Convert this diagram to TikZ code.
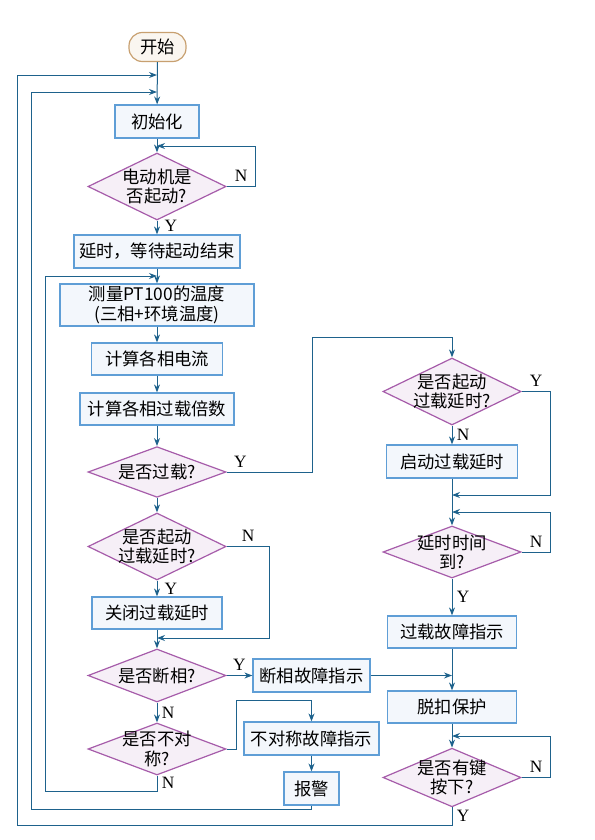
\documentclass[tikz,border=0pt]{standalone}
\usepackage{fontspec}
\setmainfont{Liberation Serif}
\newfontfamily\cjk{Noto Sans CJK SC}
\usepackage{tikz}
\usetikzlibrary{shapes,arrows.meta,positioning}
\definecolor{flowline}{RGB}{30,98,140}
\definecolor{boxline}{RGB}{95,158,214}
\definecolor{boxfill}{RGB}{243,247,252}
\definecolor{testline}{RGB}{166,92,170}
\definecolor{testfill}{RGB}{246,239,247}
\definecolor{termline}{RGB}{200,160,112}
\definecolor{termfill}{RGB}{250,246,240}

\begin{document}
\begin{tikzpicture}[x=0.75pt, y=-0.75pt, line width=0.75pt,
        >={Stealth[length=6pt,width=4.5pt]},
        every node/.style={font=\cjk\fontsize{13}{14.5}\selectfont}]
      \tikzstyle{proc} = [draw=boxline, fill=boxfill, line width=0.9pt, align=center, inner sep=0pt]
      \tikzstyle{test} = [diamond, draw=testline, fill=testfill, line width=0.9pt, align=center, inner sep=-14pt, minimum width=103.5pt]
      \tikzstyle{term} = [draw=termline, fill=termfill, line width=0.9pt, rounded corners=10pt, inner sep=0pt]
      \tikzstyle{lbl} = [font=\rmfamily\fontsize{13}{14}\selectfont, text=black]
      \tikzstyle{link} = [->, draw=flowline]
      \useasboundingbox (0,0) rectangle (594,840);
      \node (start) [term, minimum width=42.75pt, minimum height=21.75pt] at (157.5,47) {开始};
      \node (init) [proc, minimum width=63pt, minimum height=24.75pt] at (157,121.5) {初始化};
      \node (motor) [test, minimum height=50.25pt] at (157,186.5) {电动机是\\否起动?};
      \node (wait) [proc, minimum width=124.5pt, minimum height=24.75pt] at (157,251.5) {延时，等待起动结束};
      \node (meas) [proc, minimum width=145.5pt, minimum height=31.5pt] at (157,305) {测量PT100的温度\\(三相+环境温度)};
      \node (curr) [proc, minimum width=98.25pt, minimum height=24pt] at (157,359) {计算各相电流};
      \node (ratio) [proc, minimum width=115.5pt, minimum height=24pt] at (157,409) {计算各相过载倍数};
      \node (over) [test, minimum height=38pt] at (157,472) {是否过载?};
      \node (chkA) [test, minimum height=50.25pt] at (157,546.5) {是否起动\\过载延时?};
      \node (close) [proc, minimum width=97.5pt, minimum height=24pt] at (157,613) {关闭过载延时};
      \node (phase) [test, minimum height=39.75pt] at (157,675.5) {是否断相?};
      \node (asym) [test, minimum height=39pt] at (157,749) {是否不对\\称?};
      \node (phasef) [proc, minimum width=87.75pt, minimum height=24.75pt] at (311.5,675.5) {断相故障指示};
      \node (asymf) [proc, minimum width=101.25pt, minimum height=24.75pt] at (311.5,738.5) {不对称故障指示};
      \node (alarm) [proc, minimum width=41.25pt, minimum height=24.75pt] at (311.5,788.5) {报警};
      \node (chkB) [test, minimum height=50.25pt] at (452,391.5) {是否起动\\过载延时?};
      \node (sdelay) [proc, minimum width=98.25pt, minimum height=24.75pt] at (452,461.5) {启动过载延时};
      \node (delay) [test, minimum height=39pt] at (452,552) {延时时间\\到?};
      \node (overf) [proc, minimum width=96.75pt, minimum height=24pt] at (452,632) {过载故障指示};
      \node (trip) [proc, minimum width=96.75pt, minimum height=24pt] at (452,707) {脱扣保护};
      \node (key) [test, minimum height=44pt] at (452,777.5) {是否有键\\按下?};
      \coordinate (j0) at (157,75);
      \coordinate (j2) at (157,92);
      \coordinate (j1) at (157,146);
      \coordinate (j3) at (157,276);
      \coordinate (j4) at (157,638);
      \coordinate (j5) at (452,495);
      \coordinate (j6) at (452,512);
      \coordinate (j7) at (452,675.5);
      \coordinate (j8) at (452,736);
      \draw[link] (start) -- (init);
      \draw[link] (init) -- (motor);
      \draw[link] (motor.east) -- node[lbl,above] {N} ++(29,0) |- (j1);
      \draw[link] (motor) -- node[lbl,right=2pt,pos=0.4] {Y} (wait);
      \draw[link] (wait) -- (meas);
      \draw[link] (meas) -- (curr);
      \draw[link] (curr) -- (ratio);
      \draw[link] (ratio) -- (over);
      \draw[link] (over.east) -| node[lbl,above,pos=0.08] {Y} (312,337) -| (chkB.north);
      \draw[link] (over) -- (chkA);
      \draw[link] (chkA.east) -- node[lbl,above] {N} ++(43,0) |- (j4);
      \draw[link] (chkA) -- node[lbl,right=2pt] {Y} (close);
      \draw[link] (close) -- (phase);
      \draw[link] (phase) -- node[lbl,above] {Y} (phasef);
      \draw[link] (phase) -- node[lbl,right] {N} (asym);
      \draw[link] (asym.east) -| (236,700) -| (asymf.north);
      \draw[link] (asymf) -- (alarm);
      \draw[link] (alarm.south) |- (31,809) |- (j2);
      \draw[link] (asym.south) |- node[lbl,right,pos=0.25] {N} (45,791) |- (j3);
      \draw[link] (chkB) -- node[lbl,right] {N} (sdelay);
      \draw[link] (chkB.east) -- node[lbl,above] {Y} ++(29,0) |- (j5);
      \draw[link] (sdelay) -- (delay);
      \draw[link] (delay.east) -- node[lbl,above] {N} ++(29,0) |- (j6);
      \draw[link] (delay) -- node[lbl,right] {Y} (overf);
      \draw[link] (overf) -- (trip);
      \draw[link] (phasef) -- (j7);
      \draw[link] (trip) -- (key);
      \draw[link] (key.east) -- node[lbl,above] {N} ++(29,0) |- (j8);
      \draw[link] (key.south) |- node[lbl,right,pos=0.25] {Y} (17,825) |- (j0);
    \end{tikzpicture}
\end{document}
